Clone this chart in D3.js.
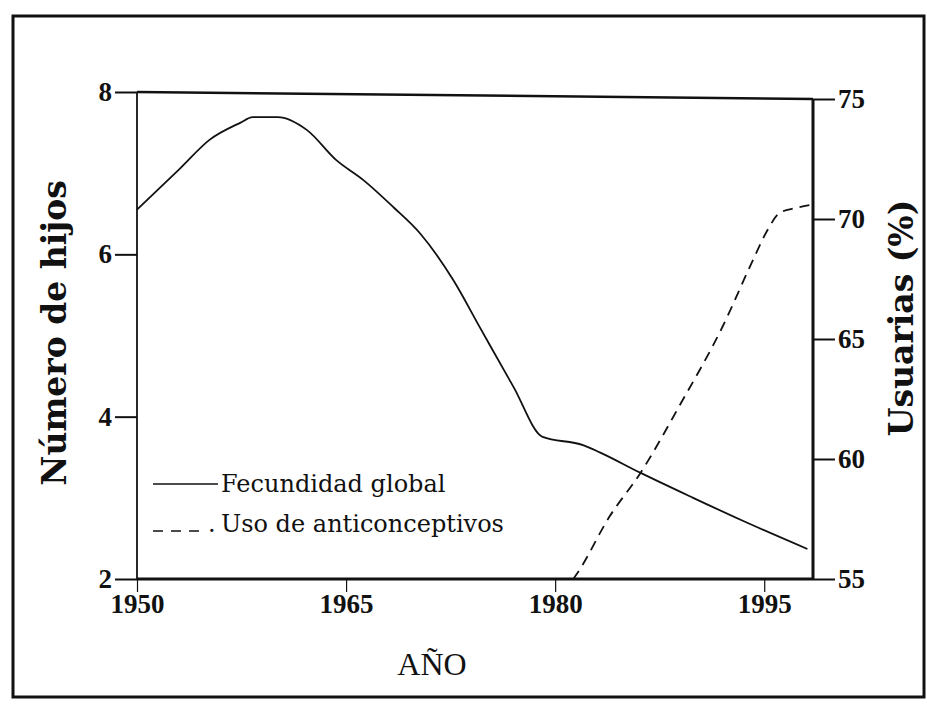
<!DOCTYPE html>
<html>
<head>
<meta charset="utf-8">
<script src="https://cdn.jsdelivr.net/npm/d3@7/dist/d3.min.js"></script>
<style>
  body { margin: 0; background: #fff; }
</style>
</head>
<body>
<div id="vis"></div>
<script>
// data
var fecYears = [1950, 1953.1, 1955.2, 1957.4, 1958.3, 1960.1, 1962.2, 1964.3, 1966.2, 1968.4, 1970.3, 1972.7, 1974.6, 1977.0, 1979.1, 1982.0, 1983.2, 1986.1, 1989.9, 1993.3, 1998.1];
var fecValues = [6.55, 7.06, 7.41, 7.62, 7.69, 7.69, 7.53, 7.16, 6.92, 6.58, 6.26, 5.68, 5.10, 4.37, 3.75, 3.65, 3.56, 3.31, 3.00, 2.73, 2.37];

var antiYears = [1981.3, 1981.6, 1983.9, 1986.1, 1989.0, 1992.0, 1994.2, 1995.2, 1996.1, 1997.2, 1998.5];
var antiValues = [55.0, 55.25, 57.6, 59.4, 62.3, 65.5, 68.3, 69.5, 70.25, 70.45, 70.6];

var xTicks = [1950, 1965, 1980, 1995];
var leftTicks = [2, 4, 6, 8];
var rightTicks = [55, 60, 65, 70, 75];

var w = 927;
var h = 709;

var svg = d3.select("#vis")
.append("svg")
.attr("width", w)
.attr("height", h);

svg.append("rect")
.attr("width", w)
.attr("height", h)
.attr("fill", "#fff");

// outer frame
svg.append("rect")
.attr("x", 13)
.attr("y", 16)
.attr("width", 911)
.attr("height", 681)
.attr("fill", "none")
.attr("stroke", "#111")
.attr("stroke-width", 3);

//scales
var x = d3.scaleLinear()
.domain([1950, 1998.5])
.range([137, 813]);

var yL = d3.scaleLinear()
.domain([2, 8])
.range([579, 92]);

var yR = d3.scaleLinear()
.domain([55, 75])
.range([579, 99]);

var tickFont = "'Liberation Serif', 'Times New Roman', serif";

function styleAxis(g) {
  g.select(".domain").remove();
  g.selectAll("line").attr("stroke", "#111").attr("stroke-width", 2);
  g.selectAll("text")
  .attr("font-family", tickFont)
  .attr("font-weight", "bold")
  .attr("font-size", 27)
  .attr("fill", "#111");
}

// left axis
svg.append("g")
.attr("transform", `translate(${x(1950)}, 0)`)
.call(d3.axisLeft(yL).tickValues(leftTicks).tickFormat(d3.format("d")).tickSize(22).tickPadding(3))
.call(styleAxis);

// right axis
svg.append("g")
.attr("transform", `translate(${x(1998.5)}, 0)`)
.call(d3.axisRight(yR).tickValues(rightTicks).tickFormat(d3.format("d")).tickSize(22).tickPadding(3))
.call(styleAxis);

// bottom axis
var xg = svg.append("g")
.attr("transform", `translate(0, ${yL(2)})`)
.call(d3.axisBottom(x).tickValues(xTicks).tickFormat(d3.format("d")).tickSize(13).tickPadding(2))
.call(styleAxis);
xg.selectAll("line").attr("stroke-width", 1.2);

// plot frame lines
svg.append("line")
.attr("x1", x(1950)).attr("y1", yL(8))
.attr("x2", x(1998.5)).attr("y2", yR(75))
.attr("stroke", "#111").attr("stroke-width", 2.5);

svg.append("line")
.attr("x1", x(1950)).attr("y1", yL(2))
.attr("x2", x(1998.5)).attr("y2", yR(55))
.attr("stroke", "#111").attr("stroke-width", 3);

svg.append("line")
.attr("x1", x(1950)).attr("y1", yL(8))
.attr("x2", x(1950)).attr("y2", yL(2))
.attr("stroke", "#111").attr("stroke-width", 1.8);

svg.append("line")
.attr("x1", x(1998.5)).attr("y1", yR(75))
.attr("x2", x(1998.5)).attr("y2", yR(55))
.attr("stroke", "#111").attr("stroke-width", 3);

// lines
var fecData = fecYears.map((d, i) => ({year: d, value: fecValues[i]}));
var antiData = antiYears.map((d, i) => ({year: d, value: antiValues[i]}));

var fecLine = d3.line()
.x(d => x(d.year))
.y(d => yL(d.value))
.curve(d3.curveMonotoneX);

var antiLine = d3.line()
.x(d => x(d.year))
.y(d => yR(d.value))
.curve(d3.curveMonotoneX);

svg.append("path")
.datum(fecData)
.attr("d", fecLine)
.attr("fill", "none")
.attr("stroke", "#111")
.attr("stroke-width", 1.8);

svg.append("path")
.datum(antiData)
.attr("d", antiLine)
.attr("fill", "none")
.attr("stroke", "#111")
.attr("stroke-width", 1.8)
.attr("stroke-dasharray", "10,7");

// axis titles
svg.append("text")
.attr("transform", "translate(66, 333) rotate(-90)")
.attr("text-anchor", "middle")
.attr("font-family", "'DejaVu Serif', serif")
.attr("font-weight", "bold")
.attr("font-size", 33)
.attr("fill", "#111")
.text("Número de hijos");

svg.append("text")
.attr("transform", "translate(913, 318) rotate(-90)")
.attr("text-anchor", "middle")
.attr("font-family", "'DejaVu Serif', serif")
.attr("font-weight", "bold")
.attr("font-size", 33)
.attr("fill", "#111")
.text("Usuarias (%)");

svg.append("text")
.attr("x", 432)
.attr("y", 675)
.attr("text-anchor", "middle")
.attr("font-family", "'Liberation Serif', serif")
.attr("font-size", 32)
.attr("fill", "#111")
.text("AÑO");

// legend
var legFont = "'DejaVu Serif', serif";

svg.append("line")
.attr("x1", 153).attr("y1", 484)
.attr("x2", 218).attr("y2", 484)
.attr("stroke", "#111").attr("stroke-width", 1.6);

svg.append("text")
.attr("x", 221)
.attr("y", 492)
.attr("font-family", legFont)
.attr("font-size", 24)
.attr("fill", "#111")
.text("Fecundidad global");

svg.append("line")
.attr("x1", 153).attr("y1", 531)
.attr("x2", 206).attr("y2", 531)
.attr("stroke", "#111").attr("stroke-width", 1.6)
.attr("stroke-dasharray", "10,8");

svg.append("text")
.attr("x", 208)
.attr("y", 532)
.attr("font-family", legFont)
.attr("font-size", 24)
.attr("fill", "#111")
.text(".");

svg.append("text")
.attr("x", 221)
.attr("y", 532)
.attr("font-family", legFont)
.attr("font-size", 24)
.attr("fill", "#111")
.text("Uso de anticonceptivos");
</script>
</body>
</html>
